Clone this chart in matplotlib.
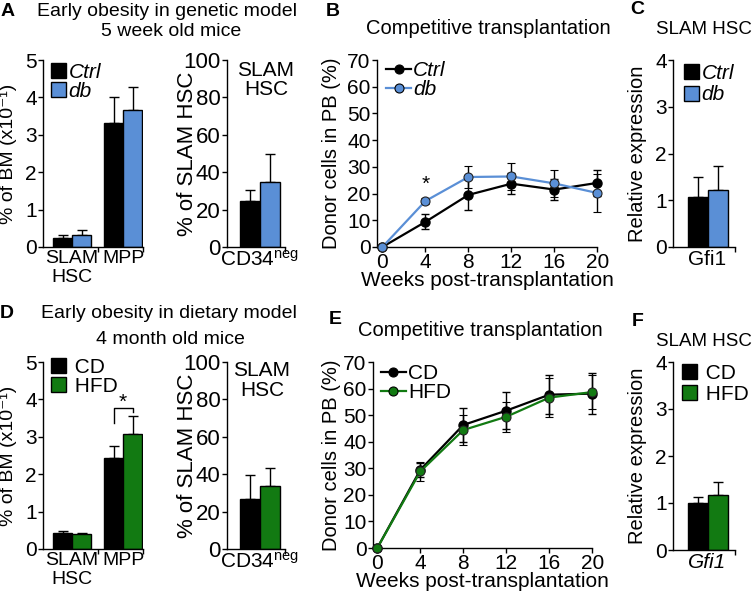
import numpy as np
import matplotlib
matplotlib.use("Agg")
import matplotlib.pyplot as plt
from matplotlib.patches import Patch
from matplotlib.lines import Line2D

plt.rcParams['font.family'] = ['Liberation Sans', 'DejaVu Sans']
plt.rcParams['mathtext.fontset'] = 'custom'
plt.rcParams['mathtext.rm'] = 'Liberation Sans'
plt.rcParams['mathtext.it'] = 'Liberation Sans:italic'

W, H = 755, 592
BLUE = '#5a8fd6'
GREEN = '#127a12'

# ---- data ----
bm_groups = ['SLAM\nHSC', 'MPP']
# A: genetic model (Ctrl / db), % of BM (x10^-1)
a_ctrl = [0.25, 3.32]
a_ctrl_err = [0.07, 0.68]
a_db = [0.33, 3.67]
a_db_err = [0.12, 0.60]
# A: % of SLAM HSC CD34neg
a_cd34_ctrl, a_cd34_ctrl_err = 24.5, 6.0
a_cd34_db, a_cd34_db_err = 35.0, 14.5

weeks = [0, 4, 8, 12, 16, 20]
b_ctrl = [0, 9.4, 19.5, 23.7, 21.5, 24.0]
b_ctrl_err = [0, 2.8, 5.8, 4.0, 3.8, 5.0]
b_db = [0, 17.2, 26.2, 26.4, 23.8, 20.2]
b_db_err = [0, 1.0, 4.0, 5.0, 5.2, 7.0]

c_ctrl, c_ctrl_err = 1.08, 0.42
c_db, c_db_err = 1.21, 0.52

# D: dietary model (CD / HFD)
d_cd = [0.43, 2.43]
d_cd_err = [0.06, 0.33]
d_hfd = [0.39, 3.07]
d_hfd_err = [0.05, 0.48]
d_cd34_cd, d_cd34_cd_err = 27.0, 12.8
d_cd34_hfd, d_cd34_hfd_err = 33.5, 10.0

e_cd = [0, 29.4, 46.3, 51.7, 57.7, 58.1]
e_cd_err = [0, 2.5, 6.3, 7.0, 7.3, 7.8]
e_hfd = [0, 28.8, 44.4, 49.4, 56.6, 58.7]
e_hfd_err = [0, 3.7, 5.6, 5.6, 7.2, 6.5]

f_cd, f_cd_err = 1.01, 0.11
f_hfd, f_hfd_err = 1.18, 0.27

FS = 15

fig = plt.figure(figsize=(W / 100, H / 100), dpi=100)


def px_axes(x0, y0, x1, y1):
    ax = fig.add_axes([x0 / W, 1 - y1 / H, (x1 - x0) / W, (y1 - y0) / H])
    ax.spines['top'].set_visible(False)
    ax.spines['right'].set_visible(False)
    for s in ('left', 'bottom'):
        ax.spines[s].set_linewidth(1.0)
    ax.tick_params(axis='both', labelsize=FS, length=3.5, width=1.0, pad=1)
    return ax


def ftext(x, y, s, **kw):
    kw.setdefault('fontsize', 13.5)
    fig.text(x / W, 1 - y / H, s, ha='center', va='center', **kw)


def ylabel_at(ax, s, xpix, size=14):
    # xpix = right edge of the rotated label, in pixels
    ax.set_ylabel(s, fontsize=size)
    bb = ax.get_position()
    ax.yaxis.set_label_coords((xpix / W - bb.x0) / bb.width, 0.5)


def bar_pair(ax, xs, v1, e1, v2, e2, c1, c2, width):
    xs = np.asarray(xs, dtype=float)
    ax.bar(xs - width / 2, v1, width, color=c1, edgecolor='black', linewidth=1.0, zorder=2)
    ax.bar(xs + width / 2, v2, width, color=c2, edgecolor='black', linewidth=1.0, zorder=2)
    z = np.zeros_like(np.atleast_1d(v1), dtype=float)
    ax.errorbar(xs - width / 2, v1, yerr=[z, np.atleast_1d(e1)], fmt='none', ecolor='black',
                elinewidth=1.0, capsize=3.5, capthick=1.0, zorder=1)
    ax.errorbar(xs + width / 2, v2, yerr=[z, np.atleast_1d(e2)], fmt='none', ecolor='black',
                elinewidth=1.0, capsize=3.5, capthick=1.0, zorder=1)


def bar_legend(ax, labels, colors, xpix, ypix, italic, spacing=0.0):
    handles = [Patch(facecolor=c, edgecolor='black', linewidth=1.0) for c in colors]
    ax.legend(handles, labels, loc='upper left', bbox_to_anchor=(xpix / W, 1 - ypix / H),
              bbox_transform=fig.transFigure, frameon=False, borderpad=0, borderaxespad=0,
              handlelength=0.7, handleheight=0.7, handletextpad=0.15, labelspacing=spacing,
              prop={'size': FS, 'style': 'italic' if italic else 'normal'})


def line_legend(ax, labels, colors, xpix, ypix, italic):
    handles = [Line2D([], [], color=c, lw=1.6, marker='o', markersize=6.5,
                      markerfacecolor=c, markeredgecolor='black',
                      markeredgewidth=0.8) for c in colors]
    ax.legend(handles, labels, loc='upper left', bbox_to_anchor=(xpix / W, 1 - ypix / H),
              bbox_transform=fig.transFigure, frameon=False, borderpad=0, borderaxespad=0,
              handlelength=1.2, handletextpad=0.1, labelspacing=0.0,
              prop={'size': FS, 'style': 'italic' if italic else 'normal'})


def bm_panel(ytop, ybot, v1, e1, v2, e2, c2):
    ax = px_axes(43, ytop, 143, ybot)
    bar_pair(ax, [0, 1], v1, e1, v2, e2, 'black', c2, 0.37)
    ax.set_xlim(-0.57, 1.39)
    ax.set_ylim(0, 5)
    ax.set_yticks([0, 1, 2, 3, 4, 5])
    ax.set_xticks([0.5, 1.39])
    ax.set_xticklabels([])
    ax.set_xticks([0, 1], minor=True)
    ax.set_xticklabels(bm_groups, minor=True, fontsize=14)
    ax.tick_params(axis='x', which='minor', length=0, pad=2)
    ylabel_at(ax, '% of BM (x10\u207b\u00b9)', 17, size=14)
    return ax


def cd34_panel(ytop, ybot, v1, e1, v2, e2, c2):
    ax = px_axes(227, ytop, 285, ybot)
    bar_pair(ax, [0], [v1], [e1], [v2], [e2], 'black', c2, 0.4)
    ax.set_xlim(-0.66, 0.5)
    ax.set_ylim(0, 100)
    ax.set_yticks([0, 20, 40, 60, 80, 100])
    ax.tick_params(axis='y', labelsize=16)
    ax.set_xticks([0.5])
    ax.set_xticklabels([])
    ax.set_xticks([0], minor=True)
    ax.set_xticklabels([r'CD34$^{\rm neg}$'], minor=True, fontsize=FS)
    ax.tick_params(axis='x', which='minor', length=0, pad=2)
    ylabel_at(ax, '% of SLAM HSC', 198, size=16)
    return ax


def line_panel(x0, ytop, ybot, xmin, m1, e1, m2, e2, c2, ylabx):
    ax = px_axes(x0, ytop, x0 + (20 - xmin) * 10.75, ybot)
    ax.errorbar(weeks, m1, yerr=e1, color='black', lw=1.6, marker='o', markersize=6.5,
                markerfacecolor='black', markeredgecolor='black', ecolor='black',
                elinewidth=1.0, capsize=3, capthick=1.0, zorder=3, clip_on=False)
    ax.errorbar(weeks, m2, yerr=e2, color=c2, lw=1.6, marker='o', markersize=6.5,
                markerfacecolor=c2, markeredgecolor='#222222', markeredgewidth=0.8,
                ecolor='black', elinewidth=1.0, capsize=3, capthick=1.0, zorder=4, clip_on=False)
    ax.set_xlim(xmin, 20)
    ax.set_ylim(0, 70)
    ax.set_xticks(weeks)
    ax.set_yticks(range(0, 71, 10))
    ax.tick_params(axis='x', pad=1)
    ax.set_xlabel('Weeks post-transplantation', fontsize=FS, labelpad=-1)
    ylabel_at(ax, 'Donor cells in PB (%)', ylabx, size=14.5)
    return ax


def expr_panel(ytop, ybot, v1, e1, v2, e2, c2, gene_italic):
    ax = px_axes(673, ytop, 735, ybot)
    bar_pair(ax, [0], [v1], [e1], [v2], [e2], 'black', c2, 0.4)
    ax.set_xlim(-0.69, 0.55)
    ax.set_ylim(0, 4)
    ax.set_yticks([0, 1, 2, 3, 4])
    ax.set_xticks([0.55])
    ax.set_xticklabels([])
    ax.set_xticks([0], minor=True)
    ax.set_xticklabels(['Gfi1'], minor=True, fontsize=FS,
                       style='italic' if gene_italic else 'normal')
    ax.tick_params(axis='x', which='minor', length=0, pad=2)
    ylabel_at(ax, 'Relative expression', 647, size=14.5)
    return ax


# ---- top row ----
ax = bm_panel(60, 247, a_ctrl, a_ctrl_err, a_db, a_db_err, BLUE)
bar_legend(ax, ['Ctrl', 'db'], ['black', BLUE], 51, 63, True)

ax = cd34_panel(60, 247, a_cd34_ctrl, a_cd34_ctrl_err, a_cd34_db, a_cd34_db_err, BLUE)
ftext(266, 70, 'SLAM', fontsize=FS)
ftext(266, 90, 'HSC', fontsize=FS)

ax = line_panel(377, 60, 247, -0.5, b_ctrl, b_ctrl_err, b_db, b_db_err, BLUE, 341)
line_legend(ax, ['Ctrl', 'db'], ['black', BLUE], 386, 61, True)
ax.text(4, 23.5, '*', ha='center', va='center', fontsize=FS)

ax = expr_panel(60, 247, c_ctrl, c_ctrl_err, c_db, c_db_err, BLUE, False)
bar_legend(ax, ['Ctrl', 'db'], ['black', BLUE], 684, 64, True, spacing=0.12)

# ---- bottom row ----
ax = bm_panel(362, 549, d_cd, d_cd_err, d_hfd, d_hfd_err, GREEN)
bar_legend(ax, [' CD', ' HFD'], ['black', GREEN], 51, 358, False)
bx1, bx2 = 1 - 0.185, 1 + 0.185
ax.plot([bx1, bx1, bx2, bx2], [3.38, 3.76, 3.76, 3.66], color='black', lw=1.0, clip_on=False)
ax.text(1, 3.93, '*', ha='center', va='center', fontsize=FS)

ax = cd34_panel(362, 549, d_cd34_cd, d_cd34_cd_err, d_cd34_hfd, d_cd34_hfd_err, GREEN)
ftext(262, 370, 'SLAM', fontsize=FS)
ftext(262, 390, 'HSC', fontsize=FS)

ax = line_panel(373, 362, 548, -0.4, e_cd, e_cd_err, e_hfd, e_hfd_err, GREEN, 341)
line_legend(ax, ['CD', 'HFD'], ['black', GREEN], 381, 364, False)

ax = expr_panel(362, 550, f_cd, f_cd_err, f_hfd, f_hfd_err, GREEN, True)
bar_legend(ax, [' CD', ' HFD'], ['black', GREEN], 682, 364, False, spacing=0.08)

# ---- titles and panel letters ----
ftext(167, 11, 'Early obesity in genetic model', fontsize=14)
ftext(171, 31, '5 week old mice', fontsize=14)
ftext(488, 29, 'Competitive transplantation', fontsize=14.5)
ftext(704, 29, 'SLAM HSC', fontsize=13.5)
ftext(169, 313, 'Early obesity in dietary model', fontsize=14)
ftext(170, 340, '4 month old mice', fontsize=14)
ftext(480, 330, 'Competitive transplantation', fontsize=14.5)
ftext(704, 342, 'SLAM HSC', fontsize=13.5)

for letter, x, y in [('A', 8, 11), ('B', 333, 11), ('C', 637, 9),
                     ('D', 7, 313), ('E', 335, 320), ('F', 638, 321)]:
    ftext(x, y, letter, fontsize=14, fontweight='bold')

fig.savefig('out.png', dpi=100)
